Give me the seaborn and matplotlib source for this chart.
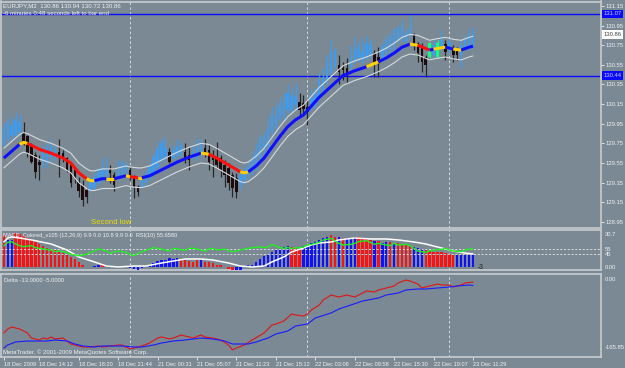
import numpy as np
import pandas as pd
import matplotlib
matplotlib.use("Agg")
import matplotlib.pyplot as plt
import seaborn as sns

# ---------------- data ----------------
time_ticks = [0, 9, 19, 29, 39, 49, 59, 69, 79, 89, 99, 109, 119]
time_labels = ["18 Dec 2009", "18 Dec 14:12", "18 Dec 18:20", "18 Dec 21:44",
               "21 Dec 00:31", "21 Dec 05:07", "21 Dec 11:23", "21 Dec 15:12",
               "22 Dec 03:08", "22 Dec 09:58", "22 Dec 15:30", "22 Dec 19:07",
               "23 Dec 11:29"]
separators = [32, 77, 113]

opens = [
    129.73, 129.79, 129.82, 129.84, 129.87, 129.86, 129.82, 129.73, 129.63, 129.56,
    129.56, 129.56, 129.61, 129.61, 129.66, 129.65, 129.60, 129.53, 129.48, 129.36,
    129.33, 129.28, 129.28, 129.30, 129.35, 129.40, 129.43, 129.48, 129.43, 129.41,
    129.41, 129.45, 129.48, 129.41, 129.31, 129.31, 129.35, 129.40, 129.45, 129.50,
    129.58, 129.61, 129.66, 129.60, 129.63, 129.65, 129.66, 129.63, 129.61, 129.63,
    129.65, 129.70, 129.68, 129.61, 129.61, 129.60, 129.53, 129.50, 129.43, 129.40,
    129.33, 129.38, 129.43, 129.46, 129.51, 129.61, 129.68, 129.71, 129.86, 129.92,
    129.99, 130.02, 130.09, 130.09, 130.14, 130.17, 130.16, 130.12, 130.12, 130.14,
    130.22, 130.29, 130.40, 130.47, 130.53, 130.55, 130.52, 130.52, 130.52, 130.58,
    130.62, 130.60, 130.63, 130.65, 130.67, 130.63, 130.62, 130.67, 130.70, 130.73,
    130.80, 130.82, 130.78, 130.85, 130.85, 130.77, 130.72, 130.63, 130.63, 130.65,
    130.63, 130.72, 130.76, 130.70, 130.70, 130.70, 130.65, 130.72, 130.73, 130.76]
closes = [
    129.91, 129.97, 129.94, 129.99, 129.97, 129.75, 129.65, 129.56, 129.46, 129.53,
    129.68, 129.70, 129.71, 129.68, 129.63, 129.60, 129.48, 129.35, 129.40, 129.26,
    129.17, 129.20, 129.36, 129.41, 129.46, 129.50, 129.48, 129.45, 129.33, 129.48,
    129.55, 129.53, 129.40, 129.31, 129.25, 129.40, 129.45, 129.51, 129.61, 129.70,
    129.75, 129.70, 129.56, 129.68, 129.71, 129.73, 129.60, 129.58, 129.66, 129.71,
    129.73, 129.66, 129.56, 129.58, 129.53, 129.48, 129.43, 129.35, 129.30, 129.25,
    129.43, 129.48, 129.51, 129.58, 129.68, 129.79, 129.81, 129.92, 130.06, 130.04,
    130.16, 130.16, 130.26, 130.24, 130.22, 130.09, 130.10, 130.07, 130.22, 130.26,
    130.40, 130.42, 130.58, 130.67, 130.70, 130.48, 130.50, 130.47, 130.62, 130.70,
    130.73, 130.68, 130.77, 130.75, 130.58, 130.57, 130.73, 130.80, 130.82, 130.90,
    130.93, 130.94, 130.87, 130.92, 130.77, 130.67, 130.58, 130.55, 130.77, 130.75,
    130.77, 130.80, 130.68, 130.78, 130.65, 130.65, 130.75, 130.80, 130.82, 130.86]
highs = [
    129.97, 130.01, 130.02, 130.07, 130.04, 129.97, 129.84, 129.75, 129.66, 129.63,
    129.73, 129.75, 129.79, 129.73, 129.79, 129.68, 129.61, 129.55, 129.51, 129.41,
    129.38, 129.30, 129.40, 129.45, 129.50, 129.60, 129.61, 129.53, 129.46, 129.58,
    129.58, 129.56, 129.51, 129.43, 129.33, 129.41, 129.48, 129.56, 129.66, 129.76,
    129.81, 129.79, 129.70, 129.73, 129.79, 129.76, 129.75, 129.71, 129.73, 129.79,
    129.79, 129.79, 129.73, 129.68, 129.76, 129.63, 129.58, 129.55, 129.46, 129.45,
    129.48, 129.51, 129.55, 129.65, 129.75, 129.84, 129.87, 130.01, 130.12, 130.14,
    130.22, 130.26, 130.35, 130.31, 130.36, 130.26, 130.24, 130.19, 130.29, 130.31,
    130.47, 130.52, 130.65, 130.80, 130.72, 130.65, 130.58, 130.62, 130.75, 130.83,
    130.78, 130.82, 130.85, 130.80, 130.70, 130.73, 130.77, 130.85, 130.87, 130.93,
    130.96, 131.01, 130.90, 131.05, 130.87, 130.78, 130.77, 130.65, 130.78, 130.82,
    130.80, 130.90, 130.80, 130.82, 130.75, 130.73, 130.80, 130.85, 130.90, 130.94]
lows = [
    129.70, 129.76, 129.79, 129.82, 129.84, 129.73, 129.61, 129.55, 129.40, 129.38,
    129.50, 129.51, 129.56, 129.58, 129.41, 129.56, 129.46, 129.31, 129.35, 129.20,
    129.11, 129.14, 129.26, 129.28, 129.33, 129.36, 129.41, 129.35, 129.26, 129.38,
    129.40, 129.43, 129.38, 129.19, 129.21, 129.30, 129.33, 129.38, 129.43, 129.48,
    129.55, 129.58, 129.55, 129.58, 129.60, 129.61, 129.55, 129.48, 129.58, 129.58,
    129.61, 129.61, 129.48, 129.41, 129.50, 129.41, 129.31, 129.28, 129.20, 129.19,
    129.28, 129.35, 129.40, 129.43, 129.48, 129.58, 129.63, 129.65, 129.80, 129.89,
    129.97, 129.99, 130.06, 130.06, 130.09, 130.02, 130.06, 129.94, 130.09, 130.11,
    130.19, 130.26, 130.35, 130.43, 130.50, 130.35, 130.40, 130.38, 130.50, 130.57,
    130.58, 130.57, 130.60, 130.62, 130.43, 130.43, 130.58, 130.63, 130.67, 130.70,
    130.77, 130.78, 130.75, 130.82, 130.70, 130.58, 130.48, 130.43, 130.62, 130.63,
    130.62, 130.70, 130.60, 130.67, 130.58, 130.60, 130.52, 130.70, 130.70, 130.72]
green_bars = [108, 110]

# colored moving average and its envelope
ma_bars = [0, 2, 4, 5, 6, 9, 12, 15, 17, 19, 21, 22, 23, 25, 26, 28, 31, 32, 34, 35,
           37, 39, 41, 44, 47, 50, 52, 54, 57, 60, 61, 62, 64, 66, 68, 70, 72, 74, 76, 78,
           80, 83, 86, 89, 92, 95, 97, 99, 101, 103, 105, 108, 109, 112, 114, 116, 118, 119]
ma_price = [129.60, 129.67, 129.74, 129.76, 129.75, 129.69, 129.65, 129.60, 129.55, 129.45,
            129.39, 129.37, 129.37, 129.39, 129.39, 129.39, 129.42, 129.41, 129.40, 129.40,
            129.42, 129.46, 129.50, 129.56, 129.61, 129.65, 129.64, 129.60, 129.53, 129.46,
            129.45, 129.46, 129.52, 129.60, 129.71, 129.82, 129.92, 129.99, 130.04, 130.13,
            130.22, 130.33, 130.44, 130.49, 130.53, 130.58, 130.62, 130.67, 130.73, 130.76,
            130.75, 130.70, 130.71, 130.73, 130.71, 130.70, 130.73, 130.74]
ma_color = ["b", "b", "y", "y", "r", "r", "r", "r", "r", "r",
            "y", "y", "b", "b", "y", "b", "y", "r", "y", "b",
            "b", "b", "b", "b", "b", "y", "r", "r", "r", "y",
            "y", "b", "b", "b", "b", "b", "b", "b", "b", "b",
            "b", "b", "b", "b", "y", "b", "b", "b", "b", "y",
            "r", "b", "y", "b", "y", "b", "b", "b"]
band_upper = [129.70, 129.77, 129.84, 129.86, 129.85, 129.79, 129.75, 129.70, 129.65, 129.55,
              129.49, 129.47, 129.47, 129.49, 129.49, 129.49, 129.52, 129.51, 129.50, 129.50,
              129.52, 129.56, 129.60, 129.66, 129.71, 129.75, 129.74, 129.70, 129.63, 129.56,
              129.55, 129.56, 129.62, 129.70, 129.81, 129.92, 130.02, 130.09, 130.14, 130.23,
              130.32, 130.43, 130.54, 130.59, 130.63, 130.68, 130.72, 130.77, 130.83, 130.86,
              130.85, 130.80, 130.81, 130.83, 130.81, 130.80, 130.83, 130.84]
band_lower = [129.50, 129.57, 129.64, 129.66, 129.65, 129.59, 129.55, 129.50, 129.45, 129.35,
              129.29, 129.27, 129.27, 129.29, 129.29, 129.29, 129.32, 129.31, 129.30, 129.30,
              129.32, 129.36, 129.40, 129.46, 129.51, 129.55, 129.54, 129.50, 129.43, 129.36,
              129.35, 129.36, 129.42, 129.50, 129.61, 129.72, 129.82, 129.89, 129.94, 130.03,
              130.12, 130.23, 130.34, 130.39, 130.43, 130.48, 130.52, 130.57, 130.63, 130.66,
              130.65, 130.60, 130.61, 130.63, 130.61, 130.60, 130.63, 130.64]
level_lines = [131.07, 130.44]
price_ticks = [131.15, 130.95, 130.75, 130.55, 130.35, 130.15, 129.95, 129.75,
               129.55, 129.35, 129.15, 128.95]
last_price = 130.86

# MACD histogram, signal and RSI
macd_hist = [
    30.6, 25.9, 25.9, 32.4, 31.5, 29.6, 27.7, 25.9, 24.0, 22.1,
    20.2, 18.3, 17.4, 16.5, 14.6, 13.6, 11.8, 9.9, 8.0, 5.2,
    2.4, 0.9, 0.5, 1.4, 1.9, 2.4, 1.4, 0.9, 0.5, 1.4,
    0.9, 0.5, -0.5, -1.4, -1.9, -0.9, 0.5, 2.4, 4.2, 6.1,
    7.1, 7.1, 8.9, 8.0, 8.9, 7.1, 6.6, 6.1, 5.6, 7.1,
    7.5, 5.6, 5.2, 4.2, 2.8, 1.9, 0.9, -1.4, -2.4, -2.4,
    -1.9, 0.5, 1.9, 2.8, 5.2, 8.0, 10.8, 12.2, 14.6, 16.5,
    17.4, 18.8, 20.2, 19.7, 18.3, 16.5, 20.2, 21.2, 23.0, 24.0,
    25.9, 27.7, 28.7, 30.6, 28.7, 28.7, 27.7, 27.7, 27.7, 28.7,
    28.7, 27.7, 26.8, 25.9, 24.9, 24.9, 23.0, 24.0, 24.0, 23.0,
    23.0, 22.1, 21.2, 20.2, 19.3, 18.3, 17.4, 16.5, 15.5, 15.0,
    14.6, 14.1, 13.6, 12.7, 12.2, 12.2, 12.2, 12.2, 12.2, 12.2]
macd_color = list(
    "rbbrrrrrrr" "rrrrrrrrrr" "rrrbbrrbrr" "brbbbbbbbb"
    "bbbbbrrrrr" "brrrrrrrrb" "bbbbbbbbbb" "bbbrrrbbbb"
    "bbbrrbrbbb" "rrrrbrbbrb" "rrrrbbbrrr" "rrrrrbbbbb")
signal_bars = [0, 1, 2, 4, 7, 12, 16, 19, 23, 26, 29, 33, 36, 40, 43, 46, 50, 53, 57, 60,
               63, 66, 68, 71, 73, 76, 78, 80, 83, 85, 89, 93, 97, 100, 104, 107, 111, 114, 117, 119]
signal_vals = [24.0, 27.7, 28.7, 27.7, 25.9, 22.1, 16.5, 9.9, 5.2, 1.4,
               0.5, 1.4, 1.4, 4.2, 6.1, 8.0, 8.0, 7.1, 4.2, 1.4,
               0.5, 1.4, 5.2, 9.9, 14.6, 18.3, 21.2, 23.0, 24.0, 25.9,
               27.7, 26.8, 26.8, 25.9, 24.0, 22.1, 18.3, 15.5, 13.6, 12.7]
rsi_bars = [0, 1, 2, 3, 4, 5, 7, 8, 9, 10, 12, 13, 14, 16, 17, 18, 19, 21, 22, 23,
            24, 26, 27, 28, 29, 31, 32, 33, 34, 35, 37, 38, 39, 40, 42, 43, 44, 46, 47, 48,
            49, 51, 52, 53, 54, 56, 57, 58, 59, 61, 62, 63, 65, 66, 67, 68, 70, 71, 72, 73,
            75, 76, 77, 78, 80, 81, 83, 84, 85, 86, 88, 89, 90, 92, 93, 94, 95, 97, 98, 99,
            100, 102, 103, 104, 105, 107, 108, 109, 111, 112, 113, 114, 116, 117, 118, 119]
rsi_vals = [62.3, 68.9, 70.3, 65.6, 62.3, 60.3, 62.3, 58.3, 56.9, 55.6,
            53.6, 50.3, 51.6, 48.9, 44.9, 43.6, 42.3, 44.9, 48.9, 51.6,
            55.6, 51.6, 46.9, 50.3, 51.6, 48.9, 44.9, 42.3, 46.9, 50.3,
            55.6, 58.3, 56.9, 55.6, 51.6, 56.9, 55.6, 52.9, 56.9, 56.9,
            55.6, 51.6, 55.6, 56.9, 53.6, 55.6, 51.6, 50.3, 51.6, 55.6,
            56.9, 58.3, 59.6, 58.3, 59.6, 64.9, 58.3, 56.9, 58.3, 56.9,
            58.3, 59.6, 63.6, 64.9, 68.9, 73.6, 76.9, 71.6, 66.9, 63.6,
            64.9, 66.9, 70.3, 72.3, 68.9, 64.9, 66.9, 63.6, 62.3, 66.9,
            63.6, 64.9, 62.3, 56.9, 51.6, 48.9, 51.6, 53.6, 54.9, 56.9,
            53.6, 51.6, 50.3, 53.6, 55.6, 55.6]
rsi_levels = [55, 45]

# Delta indicator
delta_red_bars = [0, 1, 2, 4, 6, 7, 9, 10, 11, 12, 13, 15, 16, 17, 19, 20, 22, 24, 25, 27,
                  29, 30, 31, 32, 34, 35, 37, 39, 40, 42, 43, 45, 47, 48, 50, 51, 53, 55, 57, 58,
                  59, 61, 63, 66, 68, 69, 71, 73, 74, 76, 77, 78, 80, 81, 83, 85, 87, 89, 90, 92,
                  94, 95, 97, 99, 100, 102, 103, 105, 106, 108, 110, 111, 113, 114, 116, 117, 119]
delta_red = [-125.6, -116.1, -111.4, -116.1, -125.6, -137.5, -142.2, -137.5, -139.8, -135.1,
             -139.8, -137.5, -144.6, -151.7, -156.4, -158.8, -158.8, -156.4, -158.8, -156.4,
             -154.1, -154.1, -158.8, -163.5, -158.8, -156.4, -149.3, -137.5, -135.1, -139.8,
             -137.5, -130.4, -135.1, -137.5, -130.4, -135.1, -137.5, -142.2, -154.1, -165.85,
             -161.2, -154.1, -142.2, -125.6, -106.7, -104.3, -97.2, -80.6, -83.0, -85.3,
             -80.6, -71.1, -59.3, -47.4, -35.6, -40.3, -35.6, -40.3, -35.6, -26.1,
             -28.4, -23.7, -19.0, -14.2, -7.1, 0.0, -2.4, -9.5, -19.0, -14.2,
             -9.5, -11.9, -11.9, -16.6, -11.9, -7.1, -5.0]
delta_blue_bars = [0, 1, 3, 6, 8, 11, 13, 16, 18, 20, 23, 25, 28, 30, 33, 35, 38, 40, 43, 46,
                   50, 53, 56, 58, 62, 64, 67, 69, 72, 74, 77, 79, 83, 85, 88, 91, 95, 97, 100, 102,
                   105, 107, 110, 113, 115, 118, 119]
delta_blue = [-161.2, -154.1, -146.9, -144.6, -144.6, -144.6, -142.2, -144.6, -151.7, -156.4,
              -158.8, -156.4, -156.4, -156.4, -158.8, -158.8, -154.1, -149.3, -144.6, -142.2,
              -137.5, -139.8, -144.6, -151.7, -151.7, -146.9, -137.5, -128.0, -120.9, -109.0,
              -104.3, -90.1, -78.2, -68.7, -59.3, -49.8, -42.7, -35.6, -30.8, -23.7,
              -21.3, -21.3, -19.0, -16.6, -14.2, -11.9, -13.0]

# ---------------- styling ----------------
BG = "#7b8994"
FRAME = "#c8ccd0"
TXT = "#f0f2f4"
BLUE_C = "#3a9cf2"
seg_col = {"b": "#1010ff", "r": "#ff1010", "y": "#ffd000"}
FS = 4.2

sns.set_style("dark", {"axes.facecolor": BG, "figure.facecolor": BG})
plt.rcParams["font.family"] = ["Liberation Sans", "DejaVu Sans"]

W, H = 625, 368
fig = plt.figure(figsize=(W / 100, H / 100), dpi=100, facecolor=BG)


def panel(top, bottom):
    return fig.add_axes([1 / W, (H - bottom) / H, 600 / W, (bottom - top) / H])


ax = panel(1.5, 227.5)
ax_m = panel(229.5, 270)
ax_d = panel(274, 357)

xlim = (-0.71, 151.46)
for a in (ax, ax_m, ax_d):
    a.set_facecolor(BG)
    a.set_xlim(*xlim)
    a.grid(False)
    for s in a.spines.values():
        s.set_color(FRAME)
        s.set_linewidth(1.2)
    for b in separators:
        a.axvline(b, color="#d8dbde", ls=(0, (2.5, 2.5)), lw=0.7, zorder=1)
    a.tick_params(axis="x", bottom=False, labelbottom=False)

# ---------------- main price panel ----------------
candles = pd.DataFrame({"o": opens, "h": highs, "l": lows, "c": closes})
candles["bar"] = np.arange(len(candles))
for r in candles.itertuples():
    if r.bar in green_bars:
        body, wick = "#10ff80", "#10ff80"
    elif r.c >= r.o:
        body, wick = BLUE_C, BLUE_C
    else:
        body, wick = "#1e0c0c", "#262626"
    ax.vlines(r.bar, r.l, r.h, color=wick, lw=0.9, zorder=3)
    ax.bar(r.bar, max(abs(r.c - r.o), 0.012), bottom=min(r.o, r.c), width=0.62,
           color=body, edgecolor="none", zorder=4)

sns.lineplot(x=ma_bars, y=band_upper, ax=ax, color="#d6d9dc", lw=0.8, zorder=5)
sns.lineplot(x=ma_bars, y=band_lower, ax=ax, color="#d6d9dc", lw=0.8, zorder=5)

# colored MA drawn in runs of the same color
start = 0
for k in range(1, len(ma_bars)):
    if k == len(ma_bars) - 1 or ma_color[k] != ma_color[start]:
        ax.plot(ma_bars[start:k + 1], ma_price[start:k + 1],
                color=seg_col[ma_color[start]], lw=2.2, zorder=6,
                solid_capstyle="butt")
        start = k

for lv in level_lines:
    ax.axhline(lv, color="#0a0aff", lw=1.0, zorder=2)

ax.set_ylim(128.893, 131.195)
ax.yaxis.tick_right()
ax.set_yticks(price_ticks)
ax.set_yticklabels([f"{v:.2f}" for v in price_ticks])
ax.tick_params(axis="y", right=True, left=False, length=2, width=0.6, color=TXT,
               labelcolor=TXT, labelsize=FS, pad=1.2)
ax.set_xlabel("")
ax.set_ylabel("")

ytr = ax.get_yaxis_transform()
for lv in level_lines:
    ax.text(1.004, lv, f"{lv:.2f}", transform=ytr, ha="left", va="center",
            fontsize=FS, color="#d0d0ff",
            bbox=dict(boxstyle="square,pad=0.3", fc="#0a0aff", ec="none"))
ax.text(1.004, last_price, f"{last_price:.2f}", transform=ytr, ha="left", va="center",
        fontsize=FS, color="#404040",
        bbox=dict(boxstyle="square,pad=0.3", fc="#ffffff", ec="none"))

fig.text(3 / W, 1 - 5.5 / H, "EURJPY,M2  130.86 130.94 130.72 130.86",
         fontsize=4.4, color=TXT, va="center")
fig.text(3 / W, 1 - 13.5 / H, "-6 minutes 0:48 seconds left to bar end",
         fontsize=4.4, color=TXT, va="center")
fig.text(91 / W, 1 - 222 / H, "Second low", fontsize=5.6, color="#e8e000", va="center")

# ---------------- MACD + RSI panel ----------------
ax_m.bar(np.arange(len(macd_hist)), macd_hist, width=0.6,
         color=["#ff1010" if c == "r" else "#1010ff" for c in macd_color],
         edgecolor="none", zorder=3)
sns.lineplot(x=signal_bars, y=signal_vals, ax=ax_m, color="white", lw=1.1, zorder=5)
ax_m.set_ylim(-2.35, 35.7)
ax_m.set_yticks([])
ax_m.set_xlabel("")
ax_m.set_ylabel("")

ax_r = ax_m.twinx()
ax_r.set_xlim(*xlim)
ax_r.set_ylim(13.6, 94.6)
for lv in rsi_levels:
    ax_r.axhline(lv, color="#e4e6e8", ls=(0, (2.5, 2)), lw=0.6, zorder=2)
sns.lineplot(x=rsi_bars, y=rsi_vals, ax=ax_r, color="#22ee22", lw=1.0, zorder=6)
ax_r.set_yticks([])
ax_r.set_ylabel("")
ax_r.grid(False)
for s in ax_r.spines.values():
    s.set_visible(False)

mtr = ax_m.get_yaxis_transform()
ax_m.text(1.006, 30.7, "30.7", transform=mtr, fontsize=FS, color=TXT, va="center")
ax_m.text(1.006, 0.0, "0.00", transform=mtr, fontsize=FS, color=TXT, va="center")
rtr = ax_r.get_yaxis_transform()
for lv in rsi_levels:
    ax_r.text(1.006, lv, str(lv), transform=rtr, fontsize=FS, color=TXT, va="center")
ax_m.text(120.3, 0.0, "-3", fontsize=4.8, color="#202020", va="center")
fig.text(3 / W, 1 - 235.5 / H,
         "MACD_Colored_v105 (12,26,9) 9.9 0.0 10.8 9.9 0.0  RSI(10) 55.6580",
         fontsize=4.1, color=TXT, va="center")

# ---------------- Delta panel ----------------
sns.lineplot(x=delta_red_bars, y=delta_red, ax=ax_d, color="#e01414", lw=0.8, zorder=4)
sns.lineplot(x=delta_blue_bars, y=delta_blue, ax=ax_d, color="#1a1aff", lw=0.8, zorder=4)
ax_d.set_ylim(-182.5, 14.2)
ax_d.set_yticks([])
ax_d.set_xlabel("")
ax_d.set_ylabel("")
dtr = ax_d.get_yaxis_transform()
ax_d.text(1.006, 0.0, "0.00", transform=dtr, fontsize=FS, color=TXT, va="center")
ax_d.text(1.006, -165.85, "-165.85", transform=dtr, fontsize=FS, color=TXT, va="bottom")
fig.text(4 / W, 1 - 281 / H, "Delta -13.0000 -5.0000", fontsize=FS, color=TXT, va="center")
fig.text(3 / W, 1 - 352 / H, "MetaTrader, \u00a9 2001-2009 MetaQuotes Software Corp.",
         fontsize=4.3, color=TXT, va="center")

ax_d.set_xticks(time_ticks)
ax_d.set_xticklabels(time_labels, ha="left")
ax_d.tick_params(axis="x", bottom=True, labelbottom=True, direction="out", length=2.5,
                 width=0.6, color=TXT, labelcolor=TXT, labelsize=4.1, pad=0.8)

fig.savefig("out.png", dpi=100, facecolor=BG)
